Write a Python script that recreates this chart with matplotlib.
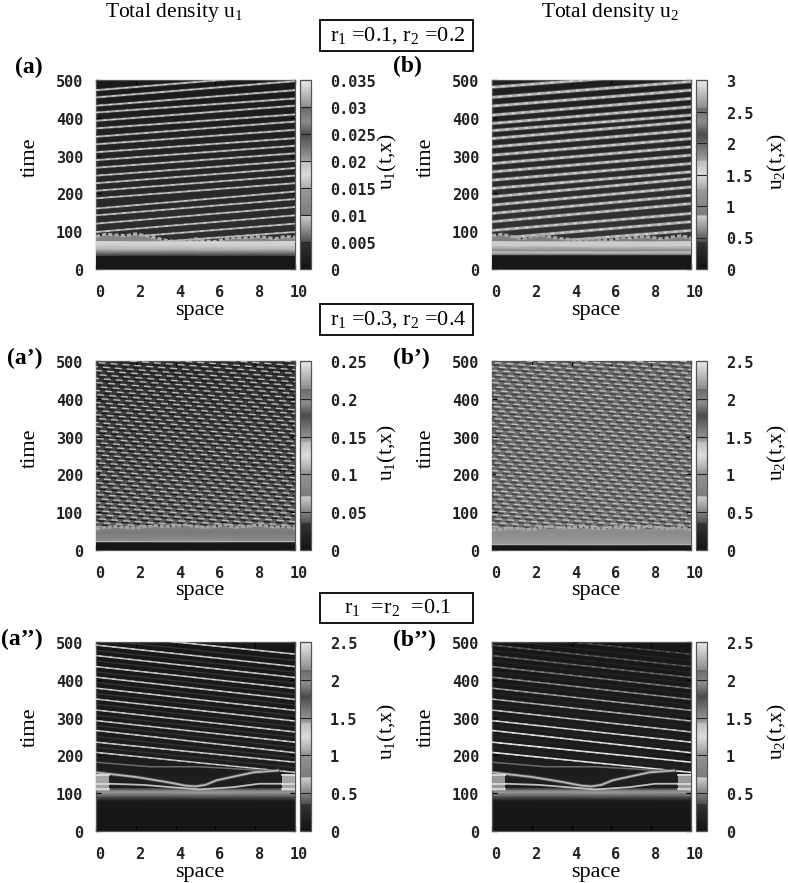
import numpy as np
import matplotlib
matplotlib.use("Agg")
import matplotlib.pyplot as plt
from matplotlib.colors import LinearSegmentedColormap, Normalize
from matplotlib.cm import ScalarMappable
from matplotlib.patches import Rectangle
from matplotlib.transforms import ScaledTranslation

W, H = 788, 883
plt.rcParams.update({
    "font.family": "Liberation Serif",
    "mathtext.fontset": "custom",
    "mathtext.rm": "Liberation Serif",
    "mathtext.default": "rm",
    "lines.scale_dashes": False,
})

# ---- colour bar gray ramp (fraction of range, gray level)
cbar_frac = [0, .14, .145, .28, .285, .42, .425, .50, .57, .575, .71, .715, .78, .85, .855, 1]
cbar_gray = [.07, .2, .32, .8, .48, .6, .66, .86, .74, .62, .3, .3, .55, .42, .55, .92]

# ---- colour-bar ticks
cb_a_ticks = [0, .005, .01, .015, .02, .025, .03, .035]
cb_a_labels = ["0", "0.005", "0.01", "0.015", "0.02", "0.025", "0.03", "0.035"]
cb_b_ticks = [0, .5, 1, 1.5, 2, 2.5, 3]
cb_b_labels = ["0", "0.5", "1", "1.5", "2", "2.5", "3"]
cb_ap_ticks = [0, .05, .1, .15, .2, .25]
cb_ap_labels = ["0", "0.05", "0.1", "0.15", "0.2", "0.25"]
cb_25_ticks = [0, .5, 1, 1.5, 2, 2.5]
cb_25_labels = ["0", "0.5", "1", "1.5", "2", "2.5"]

x_ticks = [0, 2, 4, 6, 8, 10]
t_ticks = [0, 100, 200, 300, 400, 500]

# ---- time profile of the background (time, gray)
bg_a_t = [0, 34, 37, 45, 52, 62, 72, 76, 500]
bg_a_v = [.09, .09, .3, .5, .7, .8, .85, .18, .1]
bg_b_t = [0, 36, 39, 44, 50, 62, 72, 76, 500]
bg_b_v = [.09, .09, .5, .75, .55, .8, .8, .2, .12]
low_ap_t = [0, 20, 23, 26, 45, 60]
low_ap_v = [.08, .1, .75, .55, .48, .5]
up_ap_t = [60, 200, 500]
up_ap_v = [.38, .3, .2]
low_bp_t = [0, 12, 15, 18, 45, 55]
low_bp_v = [.08, .1, .7, .6, .55, .55]
up_bp_t = [55, 200, 500]
up_bp_v = [.46, .44, .42]
bg_c_t = [0, 80, 92, 102, 108, 115, 500]
bg_c_v = [.08, .1, .35, .6, .5, .12, .09]

# ---- stripes: time at space=0 and at space=10
a_left = [473, 454, 432, 414, 392, 372, 350, 330, 309, 288, 268, 247, 227, 207, 187, 160, 142, 120, 98, 78, 60]
a_right = [516, 497, 473, 451, 432, 409, 390, 368, 346, 326, 306, 286, 267, 247, 227, 205, 185, 164, 142, 120, 98]
b_left = [481, 454, 431, 407, 385, 366, 345, 323, 301, 279, 257, 235, 213, 191, 169, 147, 125, 102, 80, 60]
b_right = [521, 496, 473, 451, 429, 407, 390, 367, 345, 323, 301, 279, 257, 239, 217, 195, 173, 147, 125, 102]
c_left = [521, 492, 464, 435, 407, 378, 349, 320, 292, 266, 235, 208]
c_right = [468, 435, 406, 377, 348, 319, 291, 262, 235, 207, 182, 155]
c2_gray = [.22, .28, .33, .4, .48, .55, .62, .7, .78, .82, .85, .85]
c_dim_left = [506, 478, 450, 421, 393, 364, 335, 306, 279, 250, 221]
c_dim_right = [451, 420, 391, 362, 333, 305, 276, 248, 221, 194, 168]

# ---- brick rows of the primed panels
rows_ap = [62, 73, 83, 94, 104, 115, 125, 136, 147, 157, 168, 178, 189, 200, 210, 221, 231, 242,
           252, 263, 274, 284, 295, 305, 316, 327, 337, 348, 358, 369, 380, 390, 401, 411, 422,
           432, 443, 454, 464, 475, 485, 496, 507, 517, 528, 538]

# ---- fronts of the transition zone
front_x = [0, .5, 1, 1.5, 2, 2.5, 3, 3.5, 4, 4.5, 5, 5.5, 6, 6.5, 7, 7.5, 8, 8.5, 9, 9.5, 10]
front_a = [86, 92, 90, 88, 93, 88, 82, 76, 72, 72, 80, 74, 73, 80, 84, 82, 86, 84, 80, 86, 84]
front_b = [88, 92, 86, 80, 86, 90, 84, 80, 78, 76, 80, 78, 76, 84, 82, 86, 84, 80, 84, 88, 82]
front_ap = [56, 60, 62, 60, 58, 62, 64, 62, 64, 66, 62, 60, 62, 66, 60, 62, 66, 64, 60, 64, 56]
front_bp = [52, 56, 58, 56, 54, 60, 62, 58, 60, 62, 58, 56, 60, 62, 56, 60, 62, 58, 56, 60, 52]

# ---- curved fronts of the double-primed panels
v_x = [0, 2.0, 3.5, 4.5, 5.0, 5.5, 6.05, 7.9, 9.15]
v_t = [155, 143, 130, 120, 118, 122, 134, 155, 160]
low_x = [.67, 2.36, 4.0, 5.2, 6.9, 8.2, 9.5]
low_t = [125, 122, 115, 110, 116, 125, 125]
arc_x = [0, 2.7, 5.2, 6.9, 8.4]
arc_t = [182, 170, 170, 165, 160]
block_l_x = [0, .65]
block_r_x = [9.35, 10]
block_lo = [105, 105]
block_hi = [150, 150]
block_rows = [110, 125, 147]


def X(p):
    return p / W


def Y(p):
    return 1 - p / H


fig = plt.figure(figsize=(W / 100, H / 100), dpi=100, facecolor="white")
ramp = LinearSegmentedColormap.from_list("ramp", [(f, (g, g, g)) for f, g in zip(cbar_frac, cbar_gray)], N=512)


def mesh(ax, ts, vs, z=1):
    Z = np.column_stack([vs, vs])
    ax.pcolormesh([0, 10], ts, Z, cmap="gray", vmin=0, vmax=1, shading="gouraud", zorder=z, rasterized=True)


def panel(x0, y0, ticks, labels, ylab, ylab_y, xlab_y):
    x1, y1 = x0 + 199, y0 + 189
    ax = fig.add_axes([X(x0), Y(y1), 199 / W, 189 / H])
    ax.set_xlim(0, 10)
    ax.set_ylim(0, 500)
    ax.set_xticks(x_ticks)
    ax.set_yticks(t_ticks)
    ax.tick_params(direction="in", top=True, right=True, length=3.6, width=.9, color="black", labelsize=11, pad=9.2)
    ax.tick_params(axis="x", pad=11.5)
    off_x = ScaledTranslation(4 / 100, 0, fig.dpi_scale_trans)
    off_y = ScaledTranslation(0, -1 / 100, fig.dpi_scale_trans)
    for lab in ax.get_xticklabels():
        lab.set_family("DejaVu Sans Mono")
        lab.set_weight("bold")
        lab.set_color("#222222")
        lab.set_transform(lab.get_transform() + off_x)
    for lab in ax.get_yticklabels():
        lab.set_family("DejaVu Sans Mono")
        lab.set_weight("bold")
        lab.set_color("#222222")
        lab.set_transform(lab.get_transform() + off_y)
    for s in ax.spines.values():
        s.set_color("#555555")
        s.set_linewidth(.9)
    cax = fig.add_axes([X(x1 + 5), Y(y1), 11 / W, 189 / H])
    cb = fig.colorbar(ScalarMappable(Normalize(0, ticks[-1]), ramp), cax=cax)
    cb.set_ticks(ticks)
    cb.set_ticklabels(labels)
    cb.outline.set_edgecolor("#555555")
    cb.outline.set_linewidth(.9)
    cax.tick_params(direction="in", length=8, width=.8, color="#222222", labelsize=11, pad=13.5)
    for lab in cax.get_yticklabels():
        lab.set_family("DejaVu Sans Mono")
        lab.set_weight("bold")
        lab.set_color("#222222")
        lab.set_transform(lab.get_transform() + off_y)
    cx = x0 + 104
    fig.text(X(cx), Y(xlab_y), "space", fontsize=16, ha="center", va="center")
    fig.text(X(x0 - 66), Y(ylab_y), "time", fontsize=16, rotation=90, ha="center", va="center")
    fig.text(X(x0 + 291 if x0 < 300 else x0 + 285), Y(ylab_y + 5), ylab, fontsize=15.5, rotation=90, ha="center", va="center")
    return ax


def stripes(ax, left, right, gray, lw, glow=None, mottle=True):
    for i, (l, r) in enumerate(zip(left, right)):
        g = gray[i] if isinstance(gray, list) else gray
        if glow:
            ax.plot([0, 10], [l, r], color=str(glow), lw=lw + 1.0, zorder=2, solid_capstyle="butt")
        ax.plot([0, 10], [l, r], color=str(g), lw=lw, zorder=3, solid_capstyle="butt")
        if mottle:
            hi = min(float(g) + .14, .95)
            ax.plot([0, 10], [l, r], color=str(hi), lw=lw * .7, zorder=3.5,
                    linestyle=((i * 2.3) % 7, (2.4, 4.6)))


def bricks(ax, rows, bright, dark):
    for i, r in enumerate(rows):
        phase = (i * 3.1) % 8.6
        ax.plot([0, 10], [r + 5, r - 35], color=dark, lw=.95, zorder=2,
                linestyle=(phase + 4.3, (5, 3.6)))
        ax.plot([0, 10], [r, r - 40], color=bright, lw=.95, zorder=3,
                linestyle=(phase, (5, 3.6)))


# (a)
ax = panel(96, 80, cb_a_ticks, cb_a_labels, "u$_1$(t,x)", 157, 310)
mesh(ax, bg_a_t, bg_a_v)
stripes(ax, a_left, a_right, ".68", 1.25, glow=.22)
ax.fill_between(front_x, 70, front_a, color="0.52", lw=0, zorder=4)
ax.plot(front_x, front_a, color="0.68", lw=2.2, zorder=5, linestyle=(0, (3, 1.5)))
mesh(ax, bg_a_t[:7], bg_a_v[:7], z=6)

# (b)
ax = panel(492, 80, cb_b_ticks, cb_b_labels, "u$_2$(t,x)", 157, 310)
mesh(ax, bg_b_t, bg_b_v)
stripes(ax, b_left, b_right, ".68", 1.9, glow=.28)
ax.fill_between(front_x, 70, front_b, color="0.5", lw=0, zorder=4)
ax.plot(front_x, front_b, color="0.66", lw=2.2, zorder=5, linestyle=(0, (3, 1.5)))
mesh(ax, bg_b_t[:7], bg_b_v[:7], z=6)

# (a')
ax = panel(96, 361, cb_ap_ticks, cb_ap_labels, "u$_1$(t,x)", 448, 590)
mesh(ax, up_ap_t, up_ap_v)
bricks(ax, rows_ap, "0.74", "0.1")
mesh(ax, low_ap_t, low_ap_v, z=4)
ax.plot(front_x, front_ap, color="0.64", lw=2.2, zorder=5, linestyle=(0, (3, 1.2)))

# (b')
ax = panel(492, 361, cb_25_ticks, cb_25_labels, "u$_2$(t,x)", 448, 590)
mesh(ax, up_bp_t, up_bp_v)
bricks(ax, rows_ap, "0.76", "0.24")
mesh(ax, low_bp_t, low_bp_v, z=4)
ax.plot(front_x, front_bp, color="0.66", lw=2.2, zorder=5, linestyle=(0, (3, 1.2)))

# (a'') and (b'')
for x0, lab, gr, edge, dim in [(96, "u$_1$(t,x)", ".72", "0.65", "0.2"), (492, "u$_2$(t,x)", c2_gray, "0.6", "0.14")]:
    ax = panel(x0, 642, cb_25_ticks, cb_25_labels, lab, 727, 872)
    mesh(ax, bg_c_t, bg_c_v)
    for dl, dr in zip(c_dim_left, c_dim_right):
        ax.plot([0, 10], [dl, dr], color=dim, lw=1.0, zorder=2)
    stripes(ax, c_left, c_right, gr, 1.15)
    ax.plot(v_x, v_t, color="0.28", lw=2.6, zorder=3.6)
    ax.plot(v_x, v_t, color="0.72", lw=1.3, zorder=4)
    ax.plot(low_x, low_t, color="0.75", lw=1.3, zorder=4)
    ax.plot(arc_x, arc_t, color="0.42", lw=1.1, zorder=4)
    ax.fill_between(block_l_x, block_lo, block_hi, color=edge, lw=0, zorder=5)
    ax.fill_between(block_r_x, block_lo, block_hi, color=edge, lw=0, zorder=5)
    for br in block_rows:
        ax.plot(block_l_x, [br, br], color="0.88", lw=1.2, zorder=6)
        ax.plot(block_r_x, [br, br], color="0.88", lw=1.2, zorder=6)

# Titles, boxes and panel letters
fig.text(X(174), Y(12), "Total density u$_1$", fontsize=15.5, ha="center", va="center")
fig.text(X(610), Y(12), "Total density u$_2$", fontsize=15.5, ha="center", va="center")
for (top, bot, txt) in [(20, 51, "r$_1$ =0.1, r$_2$ =0.2"), (304, 335, "r$_1$ =0.3, r$_2$ =0.4"), (593, 623, "r$_1$  =r$_2$  =0.1")]:
    fig.add_artist(Rectangle((X(320), Y(bot)), 153 / W, (bot - top) / H, transform=fig.transFigure,
                             fill=False, edgecolor="black", lw=1.3))
    fig.text(X(398), Y((top + bot) / 2), txt, fontsize=16, ha="center", va="center")

for px, py, txt, ha in [(43, 67, "(a)", "right"), (393, 66, "(b)", "left"),
                        (43, 358, "(a’)", "right"), (393, 358, "(b’)", "left"),
                        (43, 639, "(a’’)", "right"), (393, 640, "(b’’)", "left")]:
    fig.text(X(px), Y(py), txt, fontsize=17, weight="bold", ha=ha, va="center")

fig.savefig("out.png", dpi=100, facecolor="white")
